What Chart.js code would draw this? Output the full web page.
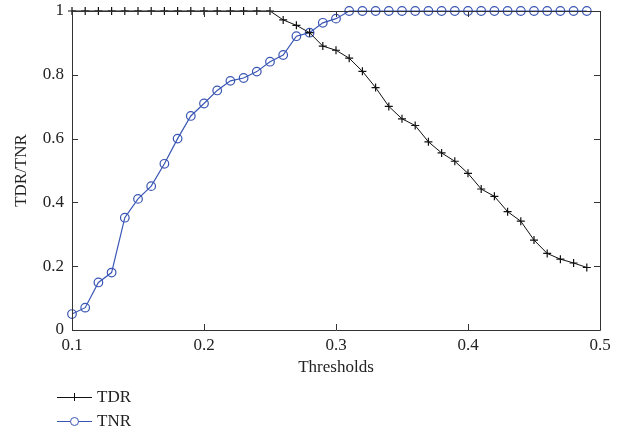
<!DOCTYPE html>
<html>
<head>
<meta charset="utf-8">
<script src="https://cdn.jsdelivr.net/npm/chart.js@4/dist/chart.umd.min.js"></script>
<style>
html,body{margin:0;padding:0;background:#fff;}
#wrap{width:627px;height:434px;position:relative;}
</style>
</head>
<body>
<div id="wrap"><canvas id="c" width="627" height="434"></canvas></div>
<script>
const thresholds = [0.10,0.11,0.12,0.13,0.14,0.15,0.16,0.17,0.18,0.19,
                    0.20,0.21,0.22,0.23,0.24,0.25,0.26,0.27,0.28,0.29,
                    0.30,0.31,0.32,0.33,0.34,0.35,0.36,0.37,0.38,0.39,
                    0.40,0.41,0.42,0.43,0.44,0.45,0.46,0.47,0.48,0.49];
const tdr = [1,1,1,1,1,1,1,1,1,1,
             1,1,1,1,1,1,0.972,0.955,0.932,0.89,
             0.877,0.852,0.811,0.76,0.701,0.662,0.641,0.59,0.555,0.529,
             0.491,0.442,0.419,0.371,0.341,0.282,0.24,0.222,0.21,0.196];
const tnr = [0.05,0.07,0.149,0.18,0.352,0.411,0.451,0.521,0.60,0.671,
             0.71,0.751,0.781,0.79,0.81,0.841,0.862,0.921,0.932,0.963,
             0.976,1,1,1,1,1,1,1,1,1,
             1,1,1,1,1,1,1,1,1,1];
const xTickLabels = ['0.1','0.2','0.3','0.4','0.5'];
const yTickLabels = ['0','0.2','0.4','0.6','0.8','1'];
const seriesNames = ['TDR','TNR'];
const xTitle = 'Thresholds';
const yTitle = 'TDR/TNR';

const FONT = "'Liberation Serif', 'Times New Roman', serif";
const AXIS = '#333333';
const BLUE = '#3a56b4';

const framePlugin = {
  id: 'frame',
  afterDatasetsDraw(chart) {
    const {ctx, chartArea: a, scales} = chart;
    ctx.save();
    ctx.strokeStyle = AXIS;
    ctx.lineWidth = 1;
    ctx.beginPath();
    ctx.rect(Math.round(a.left)+0.5, Math.round(a.top)+0.5, Math.round(a.right-a.left), Math.round(a.bottom-a.top));
    ctx.stroke();
    const L = 6;
    ctx.beginPath();
    scales.x.ticks.forEach(t => {
      const px = Math.round(scales.x.getPixelForValue(t.value)) + 0.5;
      ctx.moveTo(px, a.bottom); ctx.lineTo(px, a.bottom - L);
      ctx.moveTo(px, a.top); ctx.lineTo(px, a.top + L);
    });
    scales.y.ticks.forEach(t => {
      const py = Math.round(scales.y.getPixelForValue(t.value)) + 0.5;
      ctx.moveTo(a.left, py); ctx.lineTo(a.left + L, py);
      ctx.moveTo(a.right, py); ctx.lineTo(a.right - L, py);
    });
    ctx.stroke();
    ctx.restore();
  },
  afterDraw(chart) {
    const {ctx} = chart;
    ctx.save();
    ctx.font = "17px " + FONT;
    ctx.textBaseline = 'middle';
    ctx.fillStyle = '#222';
    const rows = [
      {y: 397, color: '#111', style: 'cross', name: seriesNames[0]},
      {y: 421, color: BLUE, style: 'circle', name: seriesNames[1]}
    ];
    rows.forEach(r => {
      ctx.strokeStyle = r.color;
      ctx.lineWidth = 1;
      ctx.beginPath();
      ctx.moveTo(57, r.y + 0.5); ctx.lineTo(92, r.y + 0.5);
      ctx.stroke();
      const cx = 74.5;
      ctx.beginPath();
      if (r.style === 'cross') {
        ctx.moveTo(cx - 4, r.y + 0.5); ctx.lineTo(cx + 4, r.y + 0.5);
        ctx.moveTo(cx, r.y - 4); ctx.lineTo(cx, r.y + 4);
        ctx.stroke();
      } else {
        ctx.fillStyle = '#fff';
        ctx.arc(cx, r.y + 0.5, 4, 0, Math.PI * 2);
        ctx.fill();
        ctx.stroke();
      }
      ctx.fillStyle = '#222';
      ctx.fillText(r.name, 97, r.y + 1);
    });
    ctx.restore();
  }
};

new Chart(document.getElementById('c'), {
  type: 'line',
  data: {
    datasets: [
      {
        label: seriesNames[0],
        data: thresholds.map((t, i) => ({x: t, y: tdr[i]})),
        borderColor: '#111',
        backgroundColor: '#111',
        borderWidth: 1,
        pointStyle: 'cross',
        pointRadius: 4,
        pointBorderWidth: 1.2,
        pointBorderColor: '#111',
        tension: 0,
        fill: false,
        clip: false
      },
      {
        label: seriesNames[1],
        data: thresholds.map((t, i) => ({x: t, y: tnr[i]})),
        borderColor: BLUE,
        backgroundColor: 'rgba(255,255,255,0)',
        borderWidth: 1.2,
        pointStyle: 'circle',
        pointRadius: 4.3,
        pointBorderWidth: 1.2,
        pointBorderColor: BLUE,
        pointBackgroundColor: 'rgba(255,255,255,0)',
        tension: 0,
        fill: false,
        clip: false
      }
    ]
  },
  options: {
    responsive: false,
    animation: false,
    devicePixelRatio: 1,
    layout: {padding: {left: 0, right: 27, top: 11, bottom: 56}},
    plugins: {legend: {display: false}, tooltip: {enabled: false}},
    scales: {
      x: {
        type: 'linear',
        min: 0.1, max: 0.5,
        afterFit(s) { s.height = 48; s.paddingLeft = 0; s.paddingRight = 0; },
        afterBuildTicks(s) { s.ticks = xTickLabels.map(v => ({value: parseFloat(v)})); },
        ticks: {
          callback: (v) => xTickLabels.find(l => Math.abs(parseFloat(l) - v) < 1e-9),
          font: {family: FONT, size: 17},
          color: '#222',
          padding: 5,
          maxRotation: 0,
          autoSkip: false
        },
        grid: {display: false, drawTicks: false},
        border: {display: false},
        title: {display: true, text: xTitle, font: {family: FONT, size: 17}, color: '#222', padding: {top: 0, bottom: 0}}
      },
      y: {
        type: 'linear',
        min: 0, max: 1,
        afterFit(s) { s.width = 72; s.paddingTop = 0; s.paddingBottom = 0; },
        afterBuildTicks(s) { s.ticks = yTickLabels.map(v => ({value: parseFloat(v)})); },
        ticks: {
          callback: (v) => yTickLabels.find(l => Math.abs(parseFloat(l) - v) < 1e-9),
          font: {family: FONT, size: 17},
          color: '#222',
          padding: 8,
          autoSkip: false
        },
        grid: {display: false, drawTicks: false},
        border: {display: false},
        title: {display: true, text: yTitle, font: {family: FONT, size: 17}, color: '#222', padding: {top: 11, bottom: 0}}
      }
    }
  },
  plugins: [framePlugin]
});
</script>
</body>
</html>
